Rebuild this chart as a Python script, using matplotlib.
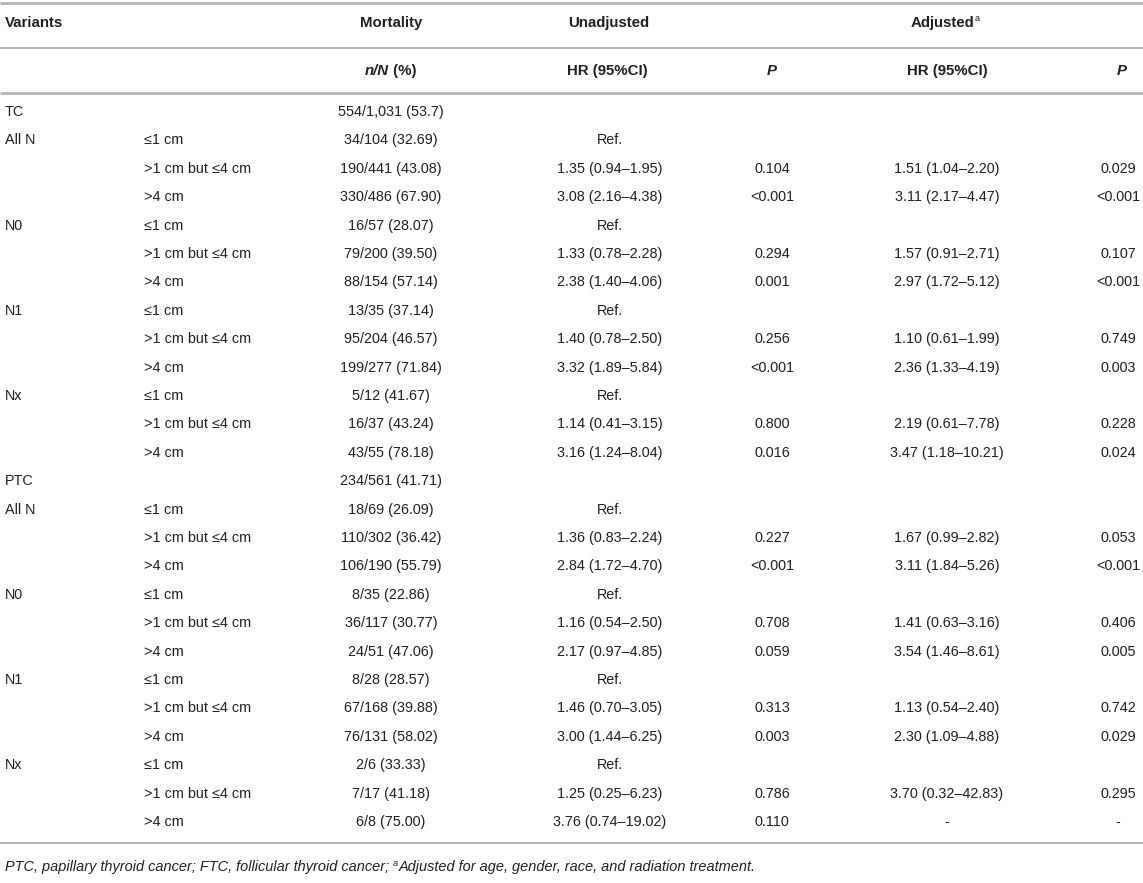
import matplotlib
matplotlib.use("Agg")
import matplotlib.pyplot as plt

plt.rcParams["font.family"] = ["Liberation Sans", "DejaVu Sans"]

# table content
groups = ["TC", "All N", "", "", "N0", "", "", "N1", "", "", "Nx", "", "",
          "PTC", "All N", "", "", "N0", "", "", "N1", "", "", "Nx", "", ""]
sizes = ["", "≤1 cm", ">1 cm but ≤4 cm", ">4 cm"] + \
        ["≤1 cm", ">1 cm but ≤4 cm", ">4 cm"] * 3
sizes = sizes + sizes
mortality = ["554/1,031 (53.7)", "34/104 (32.69)", "190/441 (43.08)", "330/486 (67.90)",
             "16/57 (28.07)", "79/200 (39.50)", "88/154 (57.14)",
             "13/35 (37.14)", "95/204 (46.57)", "199/277 (71.84)",
             "5/12 (41.67)", "16/37 (43.24)", "43/55 (78.18)",
             "234/561 (41.71)", "18/69 (26.09)", "110/302 (36.42)", "106/190 (55.79)",
             "8/35 (22.86)", "36/117 (30.77)", "24/51 (47.06)",
             "8/28 (28.57)", "67/168 (39.88)", "76/131 (58.02)",
             "2/6 (33.33)", "7/17 (41.18)", "6/8 (75.00)"]
hr_unadj = ["", "Ref.", "1.35 (0.94–1.95)", "3.08 (2.16–4.38)",
            "Ref.", "1.33 (0.78–2.28)", "2.38 (1.40–4.06)",
            "Ref.", "1.40 (0.78–2.50)", "3.32 (1.89–5.84)",
            "Ref.", "1.14 (0.41–3.15)", "3.16 (1.24–8.04)",
            "", "Ref.", "1.36 (0.83–2.24)", "2.84 (1.72–4.70)",
            "Ref.", "1.16 (0.54–2.50)", "2.17 (0.97–4.85)",
            "Ref.", "1.46 (0.70–3.05)", "3.00 (1.44–6.25)",
            "Ref.", "1.25 (0.25–6.23)", "3.76 (0.74–19.02)"]
p_unadj = ["", "", "0.104", "<0.001",
           "", "0.294", "0.001",
           "", "0.256", "<0.001",
           "", "0.800", "0.016",
           "", "", "0.227", "<0.001",
           "", "0.708", "0.059",
           "", "0.313", "0.003",
           "", "0.786", "0.110"]
hr_adj = ["", "", "1.51 (1.04–2.20)", "3.11 (2.17–4.47)",
          "", "1.57 (0.91–2.71)", "2.97 (1.72–5.12)",
          "", "1.10 (0.61–1.99)", "2.36 (1.33–4.19)",
          "", "2.19 (0.61–7.78)", "3.47 (1.18–10.21)",
          "", "", "1.67 (0.99–2.82)", "3.11 (1.84–5.26)",
          "", "1.41 (0.63–3.16)", "3.54 (1.46–8.61)",
          "", "1.13 (0.54–2.40)", "2.30 (1.09–4.88)",
          "", "3.70 (0.32–42.83)", "-"]
p_adj = ["", "", "0.029", "<0.001",
         "", "0.107", "<0.001",
         "", "0.749", "0.003",
         "", "0.228", "0.024",
         "", "", "0.053", "<0.001",
         "", "0.406", "0.005",
         "", "0.742", "0.029",
         "", "0.295", "-"]

W, H = 1143, 883
fig = plt.figure(figsize=(W / 100, H / 100), dpi=100)
ax = fig.add_axes([0, 0, 1, 1])
ax.set_xlim(0, W)
ax.set_ylim(H, 0)
ax.axis("off")

txt_color = "#231f20"
line_color = "#b4b4b4"
fs_head = 10.8
fs = 10.4

x_var, x_size = 5, 144
x_mort, x_hru, x_pu, x_hra, x_pa = 391, 610, 772, 947, 1118

# rules
for y, lw in [(3, 2.0), (48, 1.5), (93, 2.0), (843, 1.5)]:
    ax.plot([0, W], [y, y], color=line_color, lw=lw, solid_capstyle="butt")

renderer = fig.canvas.get_renderer()


def runs(x, y, parts, ha="left"):
    # draw pieces of text side by side (for italic / superscript bits)
    objs = []
    for s, kw in parts:
        dy = kw.pop("dy", 0)
        t = ax.text(0, y + dy, s, va="baseline", color=txt_color, **kw)
        objs.append(t)
    widths = [t.get_window_extent(renderer).width for t in objs]
    total = sum(widths)
    if ha == "center":
        x = x - total / 2
    for t, w in zip(objs, widths):
        t.set_x(x)
        x += w


# header row 1
hy1 = 27
ax.text(x_var, hy1, "Variants", fontsize=fs_head, fontweight="bold", va="baseline",
        color=txt_color)
ax.text(x_mort, hy1, "Mortality", fontsize=fs_head, fontweight="bold", va="baseline",
        ha="center", color=txt_color)
ax.text(568, hy1, "Unadjusted", fontsize=fs_head, fontweight="bold", va="baseline",
        color=txt_color)
runs(945, hy1, [("Adjusted", dict(fontsize=fs_head, fontweight="bold")),
                ("a", dict(fontsize=fs_head * 0.62, dy=-6))], ha="center")

# header row 2
hy2 = 75
runs(x_mort, hy2, [("n/N", dict(fontsize=fs_head, fontweight="bold", fontstyle="italic")),
                   (" (%)", dict(fontsize=fs_head, fontweight="bold"))], ha="center")
for xc in (607, x_hra):
    ax.text(xc, hy2, "HR (95%CI)", fontsize=fs_head, fontweight="bold", va="baseline",
            ha="center", color=txt_color)
for xc in (x_pu, 1122):
    ax.text(xc, hy2, "P", fontsize=fs_head, fontweight="bold", fontstyle="italic",
            va="baseline", ha="center", color=txt_color)

# body
y0, dy = 112, 28.4
for i in range(len(groups)):
    y = y0 + i * dy
    kw = dict(fontsize=fs, va="center", color=txt_color)
    ax.text(x_var, y, groups[i], **kw)
    ax.text(x_size, y, sizes[i], **kw)
    ax.text(x_mort, y, mortality[i], ha="center", **kw)
    ax.text(x_hru, y, hr_unadj[i], ha="center", **kw)
    ax.text(x_pu, y, p_unadj[i], ha="center", **kw)
    ax.text(x_hra, y, hr_adj[i], ha="center", **kw)
    ax.text(x_pa, y, p_adj[i], ha="center", **kw)

# footnote
fy = 871
runs(5, fy, [("PTC, papillary thyroid cancer; FTC, follicular thyroid cancer; ",
              dict(fontsize=10.45, fontstyle="italic")),
             ("a", dict(fontsize=6.6, fontstyle="italic", dy=-5)),
             ("Adjusted for age, gender, race, and radiation treatment.",
              dict(fontsize=10.45, fontstyle="italic"))])

fig.savefig("out.png", dpi=100)
